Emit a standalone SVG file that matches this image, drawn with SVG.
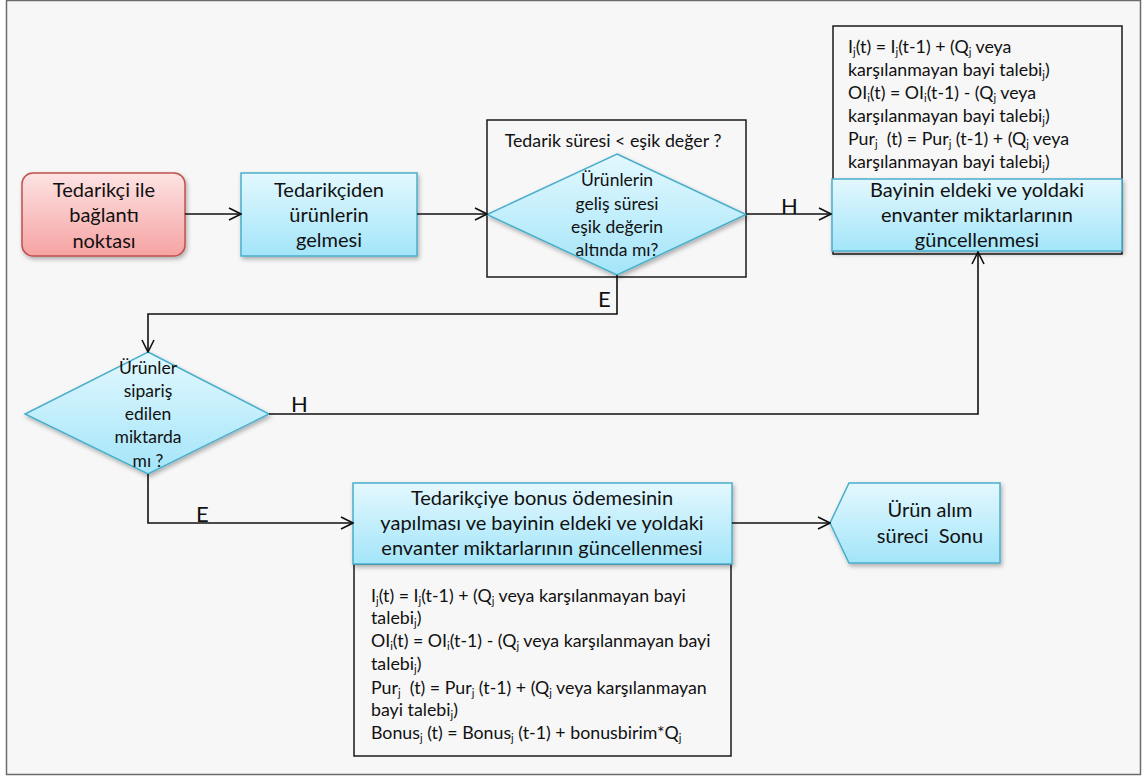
<svg xmlns="http://www.w3.org/2000/svg" width="1146" height="776" viewBox="0 0 1146 776">
  <defs>
    <linearGradient id="gBlue" x1="0" y1="0" x2="0" y2="1">
      <stop offset="0" stop-color="#e3f8fe"/>
      <stop offset="1" stop-color="#a3e5f9"/>
    </linearGradient>
    <linearGradient id="gRed" x1="0" y1="0" x2="0" y2="1">
      <stop offset="0" stop-color="#fde3e3"/>
      <stop offset="1" stop-color="#f7a3a3"/>
    </linearGradient>
    <filter id="shadow" x="-10%" y="-10%" width="125%" height="130%">
      <feDropShadow dx="1.5" dy="2.5" stdDeviation="2" flood-color="#000" flood-opacity="0.3"/>
    </filter>
    <marker id="arrow" viewBox="0 0 14 14" refX="13" refY="7" markerWidth="14" markerHeight="14" markerUnits="userSpaceOnUse" orient="auto">
      <path d="M1,1 L13,7 L1,13" fill="none" stroke="#111" stroke-width="1.6"/>
    </marker>
    <style>
      .t { font-family: Lato, "Open Sans", "DejaVu Sans", sans-serif; fill: #111; white-space: pre; }
      .big { font-size: 20px; text-anchor: middle; }
      .mid { font-size: 17.5px; text-anchor: middle; }
      .f { font-size: 17.8px; }
      .s { font-size: 11px; }
      .lbl { font-family: Lato, "Liberation Sans", sans-serif; font-size: 22px; fill: #111; }
      .blue { fill: url(#gBlue); stroke: #4aaecb; stroke-width: 1.5; }
      .red { fill: url(#gRed); stroke: #c0504d; stroke-width: 1.5; }
      .frame { fill: #f7f7f7; stroke: #1a1a1a; stroke-width: 1.5; }
      .conn { fill: none; stroke: #111; stroke-width: 1.6; }
    </style>
  </defs>

  <!-- page background -->
  <rect x="6.5" y="0.5" width="1134" height="774" fill="#f7f7f7" stroke="#6b6b6b" stroke-width="1.5"/>

  <!-- start node -->
  <g id="start">
    <rect x="22" y="173" width="163" height="83" rx="11" class="red" filter="url(#shadow)"/>
    <text class="t big" x="104" y="197">Tedarikçi ile</text>
    <text class="t big" x="104" y="222">bağlantı</text>
    <text class="t big" x="104" y="248">noktası</text>
  </g>

  <!-- arrival of products -->
  <g id="arrival">
    <rect x="241" y="173" width="176" height="83" class="blue" filter="url(#shadow)"/>
    <text class="t big" x="329" y="197">Tedarikçiden</text>
    <text class="t big" x="329" y="222">ürünlerin</text>
    <text class="t big" x="329" y="247">gelmesi</text>
  </g>

  <!-- lead-time decision -->
  <g id="leadtime">
    <rect x="487" y="120" width="259" height="157" class="frame"/>
    <text class="t" x="613" y="147" font-size="17.8" text-anchor="middle">Tedarik süresi &lt; eşik değer ?</text>
    <polygon points="617,154 746,214.5 617,275 487,214.5" class="blue" filter="url(#shadow)"/>
    <text class="t mid" x="617" y="186">Ürünlerin</text>
    <text class="t mid" x="617" y="210">geliş süresi</text>
    <text class="t mid" x="617" y="233">eşik değerin</text>
    <text class="t mid" x="617" y="256">altında mı?</text>
  </g>

  <!-- inventory formulas (top); subscripts dropped with dy and restored afterwards -->
  <g id="formulas-top">
    <rect x="833" y="26" width="289" height="228" class="frame"/>
    <text class="t f" x="848" y="53">I<tspan class="s" dy="3">j</tspan><tspan dy="-3">(t) = I</tspan><tspan class="s" dy="3">j</tspan><tspan dy="-3">(t-1) + (Q</tspan><tspan class="s" dy="3">j</tspan><tspan dy="-3"> veya</tspan></text>
    <text class="t f" x="848" y="76">karşılanmayan bayi talebi<tspan class="s" dy="3">j</tspan><tspan dy="-3">)</tspan></text>
    <text class="t f" x="848" y="99">OI<tspan class="s" dy="3">i</tspan><tspan dy="-3">(t) = OI</tspan><tspan class="s" dy="3">i</tspan><tspan dy="-3">(t-1) - (Q</tspan><tspan class="s" dy="3">j</tspan><tspan dy="-3"> veya</tspan></text>
    <text class="t f" x="848" y="122">karşılanmayan bayi talebi<tspan class="s" dy="3">j</tspan><tspan dy="-3">)</tspan></text>
    <text class="t f" x="848" y="145">Pur<tspan class="s" dy="3">j</tspan><tspan dy="-3">  (t) = Pur</tspan><tspan class="s" dy="3">j</tspan><tspan dy="-3"> (t-1) + (Q</tspan><tspan class="s" dy="3">j</tspan><tspan dy="-3"> veya</tspan></text>
    <text class="t f" x="848" y="168">karşılanmayan bayi talebi<tspan class="s" dy="3">j</tspan><tspan dy="-3">)</tspan></text>
  </g>

  <!-- inventory update -->
  <g id="update">
    <rect x="832" y="179" width="290" height="72" class="blue" filter="url(#shadow)"/>
    <text class="t big" x="977" y="197">Bayinin eldeki ve yoldaki</text>
    <text class="t big" x="977" y="222">envanter miktarlarının</text>
    <text class="t big" x="977" y="247">güncellenmesi</text>
  </g>

  <!-- quantity decision -->
  <g id="quantity">
    <polygon points="148,352 269,414 148,474 25,414" class="blue" filter="url(#shadow)"/>
    <text class="t mid" x="148" y="374">Ürünler</text>
    <text class="t mid" x="148" y="397">sipariş</text>
    <text class="t mid" x="148" y="420">edilen</text>
    <text class="t mid" x="148" y="443">miktarda</text>
    <text class="t mid" x="148" y="467">mı ?</text>
  </g>

  <!-- bonus payment -->
  <g id="bonus">
    <rect x="354" y="564" width="377" height="192" class="frame"/>
    <rect x="353" y="483" width="379" height="81" class="blue" filter="url(#shadow)"/>
    <text class="t big" x="542" y="505">Tedarikçiye bonus ödemesinin</text>
    <text class="t big" x="542" y="530">yapılması ve bayinin eldeki ve yoldaki</text>
    <text class="t big" x="542" y="555">envanter miktarlarının güncellenmesi</text>
    <text class="t f" x="371" y="602">I<tspan class="s" dy="3">j</tspan><tspan dy="-3">(t) = I</tspan><tspan class="s" dy="3">j</tspan><tspan dy="-3">(t-1) + (Q</tspan><tspan class="s" dy="3">j</tspan><tspan dy="-3"> veya karşılanmayan bayi</tspan></text>
    <text class="t f" x="371" y="624">talebi<tspan class="s" dy="3">j</tspan><tspan dy="-3">)</tspan></text>
    <text class="t f" x="371" y="647">OI<tspan class="s" dy="3">i</tspan><tspan dy="-3">(t) = OI</tspan><tspan class="s" dy="3">i</tspan><tspan dy="-3">(t-1) - (Q</tspan><tspan class="s" dy="3">j</tspan><tspan dy="-3"> veya karşılanmayan bayi</tspan></text>
    <text class="t f" x="371" y="670">talebi<tspan class="s" dy="3">j</tspan><tspan dy="-3">)</tspan></text>
    <text class="t f" x="371" y="694">Pur<tspan class="s" dy="3">j</tspan><tspan dy="-3">  (t) = Pur</tspan><tspan class="s" dy="3">j</tspan><tspan dy="-3"> (t-1) + (Q</tspan><tspan class="s" dy="3">j</tspan><tspan dy="-3"> veya karşılanmayan</tspan></text>
    <text class="t f" x="371" y="716">bayi talebi<tspan class="s" dy="3">j</tspan><tspan dy="-3">)</tspan></text>
    <text class="t f" x="371" y="739">Bonus<tspan class="s" dy="3">j</tspan><tspan dy="-3"> (t) = Bonus</tspan><tspan class="s" dy="3">j</tspan><tspan dy="-3"> (t-1) + bonusbirim*Q</tspan><tspan class="s" dy="3">j</tspan></text>
  </g>

  <!-- end of process -->
  <g id="end">
    <polygon points="830,523 849,483 1000,483 1000,563 849,563" class="blue" filter="url(#shadow)"/>
    <text class="t big" x="930" y="517">Ürün alım</text>
    <text class="t big" x="930" y="543">süreci  Sonu</text>
  </g>

  <!-- connectors -->
  <g id="connectors">
    <line x1="185" y1="214" x2="241" y2="214" class="conn" marker-end="url(#arrow)"/>
    <line x1="417" y1="214" x2="487" y2="214" class="conn" marker-end="url(#arrow)"/>
    <line x1="746" y1="214" x2="831" y2="214" class="conn" marker-end="url(#arrow)"/>
    <polyline points="617,275 617,314 148,314 148,352" class="conn" marker-end="url(#arrow)"/>
    <polyline points="269,414 978,414 978,252" class="conn" marker-end="url(#arrow)"/>
    <polyline points="148,474 148,523 353,523" class="conn" marker-end="url(#arrow)"/>
    <line x1="732" y1="523" x2="830" y2="523" class="conn" marker-end="url(#arrow)"/>
    <text class="lbl" x="781" y="214">H</text>
    <text class="lbl" x="598" y="307">E</text>
    <text class="lbl" x="291" y="412">H</text>
    <text class="lbl" x="196" y="522">E</text>
  </g>
</svg>
